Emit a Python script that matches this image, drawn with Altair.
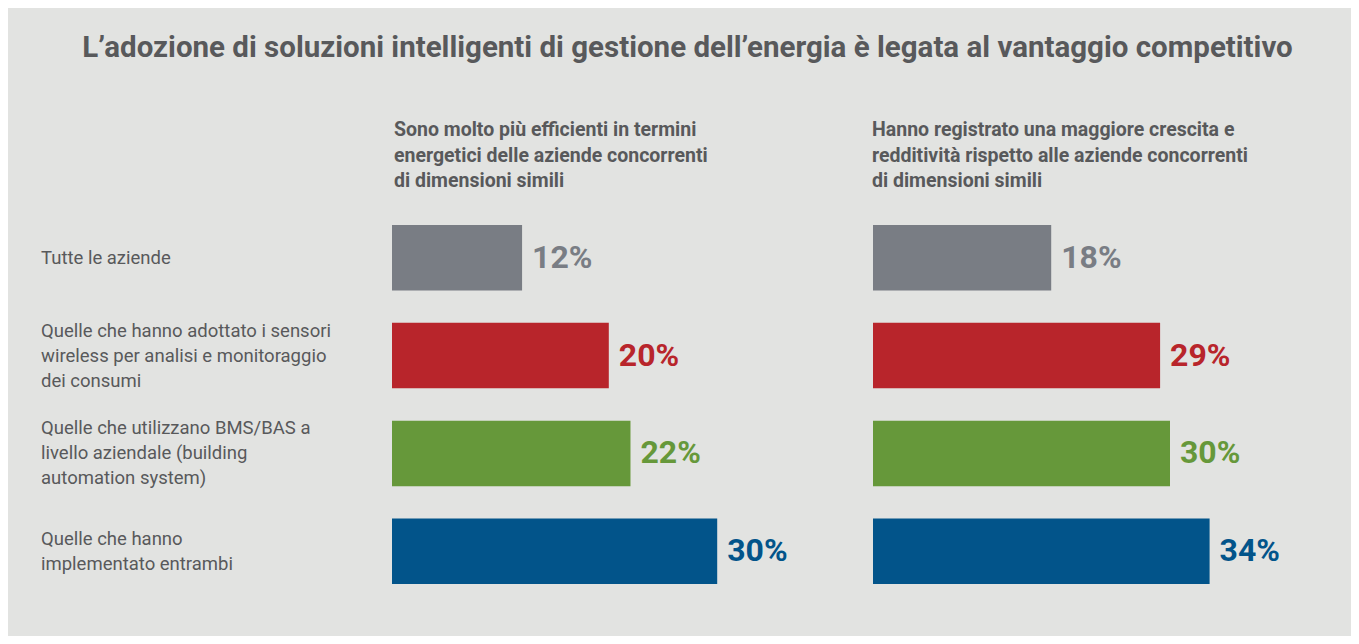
import altair as alt
import pandas as pd

title_text = "L’adozione di soluzioni intelligenti di gestione dell’energia è legata al vantaggio competitivo"
subtitle_left = "Sono molto più efficienti in termini\nenergetici delle aziende concorrenti\ndi dimensioni simili"
subtitle_right = "Hanno registrato una maggiore crescita e\nredditività rispetto alle aziende concorrenti\ndi dimensioni simili"

categories = [
    "Tutte le aziende",
    "Quelle che hanno adottato i sensori\nwireless per analisi e monitoraggio\ndei consumi",
    "Quelle che utilizzano BMS/BAS a\nlivello aziendale (building\nautomation system)",
    "Quelle che hanno\nimplementato entrambi",
]
values_left = [12, 20, 22, 30]
values_right = [18, 29, 30, 34]
bar_colors = ["#797d84", "#b8252b", "#66983a", "#02548a"]

FONT = "Roboto"
TEXT_COLOR = "#58595b"
CAT_LH = 25
Y_RANGE = [217, 576]
PAD_INNER = 0.33
_step = (Y_RANGE[1] - Y_RANGE[0]) / (len(categories) - PAD_INNER)
HALF_BAND = _step * (1 - PAD_INNER) / 2

df = pd.DataFrame({
    "cat": categories,
    "left": values_left,
    "right": values_right,
    "left_label": [f"{v}%" for v in values_left],
    "right_label": [f"{v}%" for v in values_right],
})

base = alt.Chart(df)

y = alt.Y("cat:N", sort=categories,
          scale=alt.Scale(domain=categories, range=Y_RANGE, paddingInner=PAD_INNER, paddingOuter=0),
          axis=None)
color = alt.Color("cat:N", scale=alt.Scale(domain=categories, range=bar_colors), legend=None)

left_x = alt.X("left:Q", scale=alt.Scale(domain=[0, 40], range=[384, 817.6], nice=False, zero=True), axis=None)
right_x = alt.X("right:Q", scale=alt.Scale(domain=[0, 40], range=[865, 1261], nice=False, zero=True), axis=None)

value_style = dict(align="left", baseline="middle", dx=10, font=FONT, fontSize=32, fontWeight="bold")

left_bars = base.mark_bar().encode(x=left_x, y=y, color=color)
left_labels = base.mark_text(**value_style).encode(x=left_x, y=y, text="left_label:N", color=color)
right_bars = base.mark_bar().encode(x=right_x, y=y, color=color)
right_labels = base.mark_text(**value_style).encode(x=right_x, y=y, text="right_label:N", color=color)

cat_labels = base.transform_calculate(
    yoff=f"{HALF_BAND} - (length(split(datum.cat, '\\n')) - 1) * {CAT_LH / 2}"
).mark_text(align="left", baseline="middle", lineBreak="\n", font=FONT,
            fontSize=18.5, lineHeight=CAT_LH, color=TEXT_COLOR).encode(
    x=alt.value(33), y=y, yOffset=alt.YOffset("yoff:Q", scale=None), text="cat:N")

title = alt.Chart(pd.DataFrame({"t": [title_text]})).mark_text(
    align="center", baseline="middle", font=FONT, fontSize=29.5, fontWeight="bold", color=TEXT_COLOR
).encode(x=alt.value(679.5), y=alt.value(40), text="t:N")

subs = alt.Chart(pd.DataFrame({"t": [subtitle_left, subtitle_right], "x": [386, 864]})).mark_text(
    align="left", baseline="middle", lineBreak="\n", font=FONT, fontSize=19.5, fontWeight="bold",
    lineHeight=25.5, color=TEXT_COLOR
).encode(x=alt.X("x:Q", scale=alt.Scale(domain=[0, 1343], range=[0, 1343], nice=False), axis=None),
         y=alt.value(122), text="t:N")

chart = alt.layer(
    left_bars, left_labels, right_bars, right_labels, cat_labels, title, subs
).resolve_scale(x="independent").properties(
    width=1343, height=628,
    autosize=alt.AutoSizeParams(type="none"),
    padding=0,
    background="#e2e3e1",
).configure_view(stroke=None)

chart.save("out.html", embed_options={"renderer": "svg", "actions": False})
